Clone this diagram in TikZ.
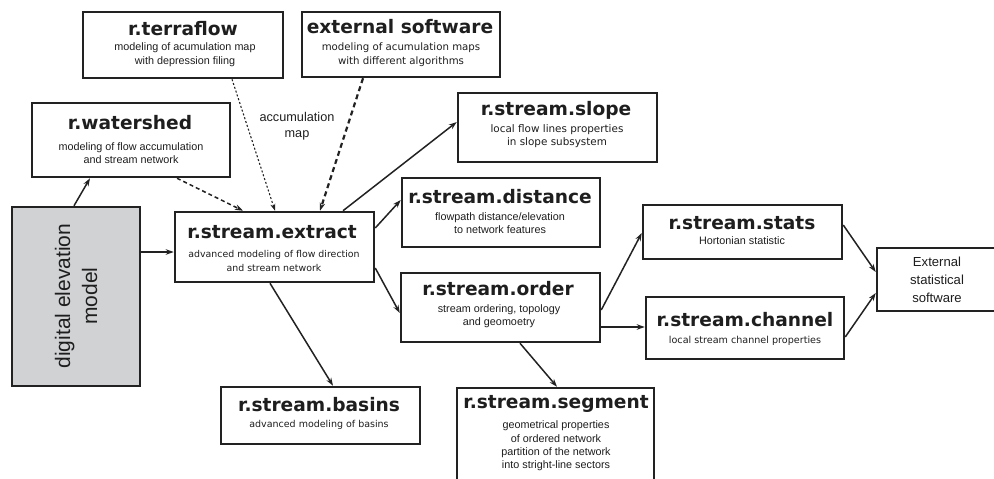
\documentclass[tikz,border=0pt]{standalone}
\usepackage{fontspec}
\setmainfont{Liberation Sans}
\newfontfamily\dejavu{DejaVu Sans}
\usetikzlibrary{arrows.meta}

\definecolor{ink}{HTML}{222222}
\definecolor{txt}{HTML}{1E1E1E}
\definecolor{demfill}{HTML}{D1D2D4}

\tikzset{
  box/.style={draw=ink, line width=2.5pt, inner sep=0pt, fill=white},
  ttl/.style={font=\dejavu\bfseries\fontsize{18.6}{20}\selectfont, text=txt, inner sep=0pt},
  dscA/.style={font=\fontsize{10.8}{#1}\selectfont, text=txt, align=center, inner sep=0pt},
  dscB/.style={font=\dejavu\fontsize{#1}{14}\selectfont, text=txt, align=center, inner sep=0pt},
  flow/.style={draw=ink, line width=1.5pt, -{Stealth[length=8pt,width=5.5pt]}},
  dashflow/.style={flow, dash pattern=on 4pt off 3pt},
  dotflow/.style={draw=ink, line width=1.1pt, dash pattern=on 2pt off 2pt, -{Stealth[length=7pt,width=5pt]}},
  heavydash/.style={flow, line width=2.2pt, dash pattern=on 5pt off 3.5pt},
}

\begin{document}
\begin{tikzpicture}[x=1pt, y=-1pt]
\useasboundingbox (0,0) rectangle (994,479);

% boxes
\node[box, minimum width=200pt, minimum height=66pt] (tf) at (183,45) {};
\node[box, minimum width=198pt, minimum height=65pt] (es) at (401,44.5) {};
\node[box, minimum width=198pt, minimum height=74pt] (ws) at (131,140) {};
\node[box, minimum width=199pt, minimum height=69pt] (sl) at (557.5,127.5) {};
\node[box, minimum width=198pt, minimum height=69pt] (di) at (501,212.5) {};
\node[box, minimum width=199pt, minimum height=54pt] (st) at (742.5,232) {};
\node[box, minimum width=199pt, minimum height=70pt] (ex) at (274.5,247) {};
\node[box, minimum width=199pt, minimum height=69pt] (or) at (500.5,307.5) {};
\node[box, minimum width=198pt, minimum height=62pt] (ch) at (745,328) {};
\node[box, minimum width=199pt, minimum height=57pt] (ba) at (320.5,415.5) {};
\node[box, minimum width=197pt, minimum height=107pt] (se) at (555.5,441.5) {};
\node[box, fill=demfill, minimum width=128pt, minimum height=179pt] (dem) at (76,296.5) {};
\node[box, minimum width=123pt, minimum height=63pt] (sw) at (938.5,279.5) {};

% titles
\node[ttl] (tf-t) at (183,29) {r.terraflow};
\node[ttl] (es-t) at (400,27) {external software};
\node[ttl] (ws-t) at (130,123) {r.watershed};
\node[ttl] (sl-t) at (556,110) {r.stream.slope};
\node[ttl] (di-t) at (500,197) {r.stream.distance};
\node[ttl] (st-t) at (742,223) {r.stream.stats};
\node[ttl] (ex-t) at (272,232) {r.stream.extract};
\node[ttl] (or-t) at (498,289) {r.stream.order};
\node[ttl] (ch-t) at (745,320) {r.stream.channel};
\node[ttl] (ba-t) at (319,405) {r.stream.basins};
\node[ttl] (se-t) at (556,404) {r.stream.segment};

% descriptions
\node[dscA=14] (tf-d) at (185,55) {modeling of acumulation map\\with depression filing};
\node[dscB=10.2] (es-d) at (401,55) {modeling of acumulation maps\\with different algorithms};
\node[dscA=13] (ws-d) at (131,153) {modeling of flow accumulation\\and stream network};
\node[dscB=10.4, font=\dejavu\fontsize{10.4}{12.3}\selectfont] (sl-d) at (557,136) {local flow lines properties\\in slope subsystem};
\node[dscA=12.3] (di-d) at (500,223) {flowpath distance/elevation\\to network features};
\node[dscA=13] (st-d) at (742,241) {Hortonian statistic};
\node[dscB=9.4] (ex-d) at (274,261) {advanced modeling of flow direction\\and stream network};
\node[dscA=13] (or-d) at (499,316.5) {stream ordering, topology\\and geomoetry};
\node[dscB=9.6] (ch-d) at (745,341) {local stream channel properties};
\node[dscB=9.5] (ba-d) at (319,425) {advanced modeling of basins};
\node[dscA=13.3] (se-d) at (556,446) {geometrical properties\\of ordered network\\partition of the network\\into stright-line sectors};

\node[font=\fontsize{21}{27}\selectfont, text=txt, align=center, rotate=90, inner sep=0pt] (dem-t) at (76,296) {digital elevation\\model};
\node[font=\fontsize{13.1}{18}\selectfont, text=txt, align=center, inner sep=0pt] (sw-t) at (937,280) {External\\statistical\\software};
\node[font=\fontsize{12.7}{16}\selectfont, text=txt, align=center, inner sep=0pt] (acc) at (297,126) {accumulation\\map};

% connectors
\draw[flow] ([xshift=-2pt]dem.north) -- ([xshift=-41pt]ws.south);
\draw[dashflow] ([xshift=46pt]ws.south) -- ([xshift=-31.5pt]ex.north);
\draw[dotflow] ([xshift=49pt]tf.south) -- ([xshift=0.5pt]ex.north);
\draw[heavydash] ([xshift=-38pt]es.south) -- ([xshift=45.5pt]ex.north);
\draw[flow] ([yshift=44.5pt]dem.east) -- ([yshift=44.5pt]dem.east -| ex.west);
\draw[flow] ([xshift=68.5pt]ex.north) -- ([yshift=5.5pt]sl.west);
\draw[flow] ([yshift=19pt]ex.east) -- ([yshift=12.5pt]di.west);
\draw[flow] ([yshift=-21pt]ex.east) -- ([yshift=-5.5pt]or.west);
\draw[flow] ([xshift=-4.5pt]ex.south) -- ([xshift=12.5pt]ba.north);
\draw[flow] ([yshift=-2.5pt]or.east) -- ([yshift=-1pt]st.west);
\draw[flow] ([yshift=-19.5pt]or.east) -- ([yshift=-19.5pt]or.east -| ch.west);
\draw[flow] ([xshift=19.5pt]or.south) -- ([xshift=1.5pt]se.north);
\draw[flow] ([yshift=7pt]st.east) -- ([yshift=7.5pt]sw.west);
\draw[flow] ([yshift=-9pt]ch.east) -- ([yshift=-13.5pt]sw.west);
\end{tikzpicture}
\end{document}
